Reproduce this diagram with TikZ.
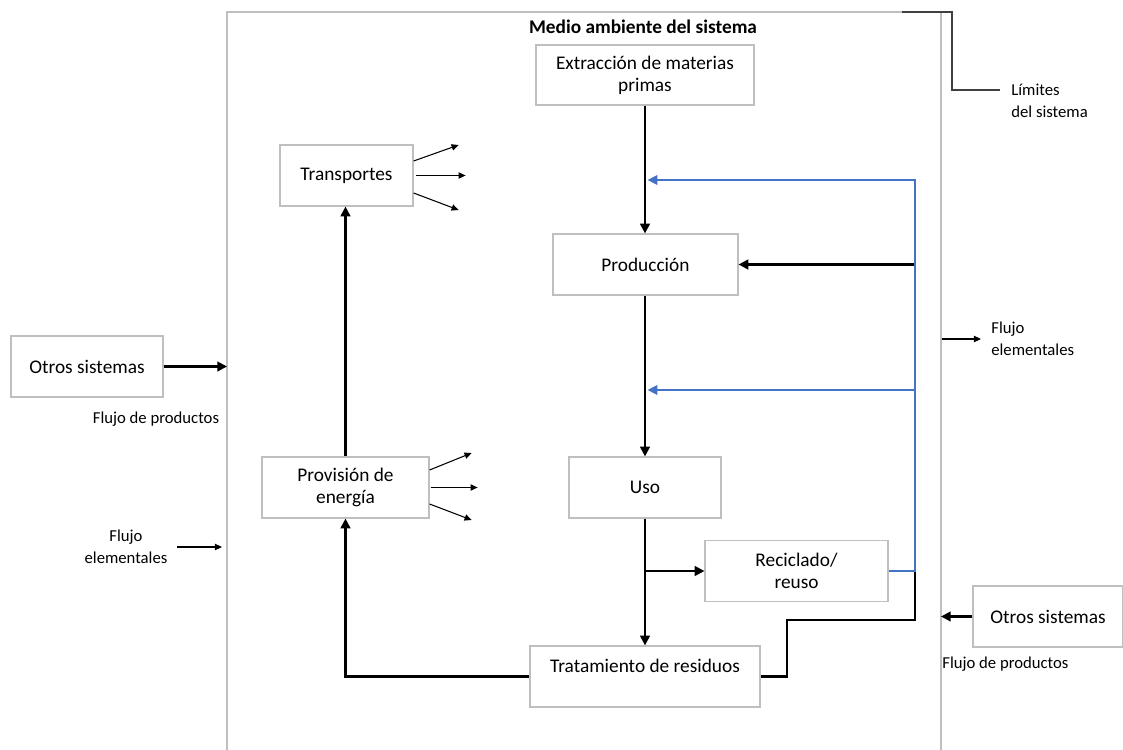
\documentclass[tikz,border=0pt]{standalone}
\usepackage{fontspec}
\setmainfont{Carlito}
\usetikzlibrary{positioning, arrows.meta, calc}

\definecolor{boxgray}{RGB}{191,191,191}
\definecolor{flowblue}{RGB}{68,114,196}
\definecolor{callout}{RGB}{64,64,64}

\begin{document}
\begin{tikzpicture}[x=0.02cm, y=-0.02cm,
  stage/.style={draw=boxgray, line width=0.7pt, rectangle, minimum height=1.22cm, align=center, inner sep=2pt, font=\fontsize{11}{12.6}\selectfont},
  flow/.style={-{Triangle[length=5.5pt,width=5.5pt]}, line width=1.2pt},
  feedback/.style={-{Triangle[length=5.5pt,width=5.5pt]}, line width=0.9pt, color=flowblue},
  leak/.style={-{Triangle[length=4pt,width=3.6pt]}, line width=0.6pt},
  note/.style={inner sep=0pt, font=\fontsize{9.5}{12.5}\selectfont},
]
  \useasboundingbox (0,0) rectangle (1123,750);

  % system limits
  \draw[draw=boxgray, line width=0.8pt] (227,760) |- (941,12) -- (941,760);
  \coordinate (limL) at (227,366);
  \coordinate (limR) at (941,616);
  \draw[callout, line width=0.8pt] (902,12) -| (952,90) -- (1000,90);
  \node[note, anchor=west, align=left] (limits) at (1011,101) {Límites\\del sistema};
  \node[font=\fontsize{11}{13}\selectfont\bfseries] (title) at (643,27) {Medio ambiente del sistema};

  % stages
  \node[stage, minimum width=4.36cm, minimum height=1.2cm] (extr) at (645,75) {Extracción de materias\\primas};
  \node[stage, minimum width=2.66cm] (transp) at (346.5,175.5) {Transportes};
  \node[stage, minimum width=3.7cm] (prod) at (645.5,264.5) {Producción};
  \node[stage, minimum width=3.04cm] (otrosL) at (87,366.5) {Otros sistemas};
  \node[stage, minimum width=3.34cm] (prov) at (345.5,487.5) {Provisión de\\energía};
  \node[stage, minimum width=3.04cm] (uso) at (645,487.5) {Uso};
  \node[stage, minimum width=3.66cm] (recic) at (796.5,571) {Reciclado/\\reuso};
  \node[stage, minimum width=4.6cm] (trat) at (645,676.5) {Tratamiento de residuos\\~};
  \node[stage, minimum width=3.0cm] (otrosR) at (1048,616.5) {Otros sistemas};

  % labels
  \node[note] (prodL) at (156,419) {Flujo de productos};
  \node[note, align=center] (elemLtxt) at (126,547) {Flujo\\elementales};
  \node[note, anchor=west, align=left] (elemRtxt) at (991,339) {Flujo\\elementales};
  \node[note, anchor=west] (prodR) at (942,664) {Flujo de productos};

  \coordinate (elemL) at (177,547);
  \coordinate (elemR) at (942,339);
  \coordinate (fbtop) at (915,180);
  \coordinate (fbmid) at (915,390);

  % main flows
  \draw[flow] (extr.south) -- (prod.north -| extr.south);
  \draw[flow] (prod.south -| uso.north) -- (uso.north);
  \draw[flow] (uso.south) -- (trat.north);
  \draw[flow] (uso.south |- recic.west) -- (recic.west);
  \draw[flow] (trat.west) -| (prov.south);
  \draw[flow] (prov.north) -- (prov.north |- transp.south);
  \draw[flow] (trat.east) -| (787,620) -- (915,620) |- (prod.east);
  \draw[flow] (otrosL.east) -- (otrosL.east -| limL);
  \draw[flow] (otrosR.west) -- (otrosR.west -| limR);

  % recycling loops
  \draw[feedback] (recic.east) -| (fbtop) -- ([xshift=1.5pt]extr.south |- fbtop);
  \draw[feedback] (fbmid) -- ([xshift=1.5pt]uso.north |- fbmid);

  % emissions
  \draw[leak] ([yshift=0.29cm]transp.east) -- ++(45,-16);
  \draw[leak] ([xshift=0.04cm]transp.east) -- ++(50,0);
  \draw[leak] ([yshift=-0.35cm]transp.east) -- ++(45,17);
  \draw[leak] ([yshift=0.35cm]prov.east) -- ++(42,-17);
  \draw[leak] ([xshift=0.02cm]prov.east) -- ++(47,0);
  \draw[leak] ([yshift=-0.33cm]prov.east) -- ++(42,16);
  \draw[leak] (elemL) -- ++(45,0);
  \draw[leak] (elemR) -- ++(39,0);
\end{tikzpicture}
\end{document}
